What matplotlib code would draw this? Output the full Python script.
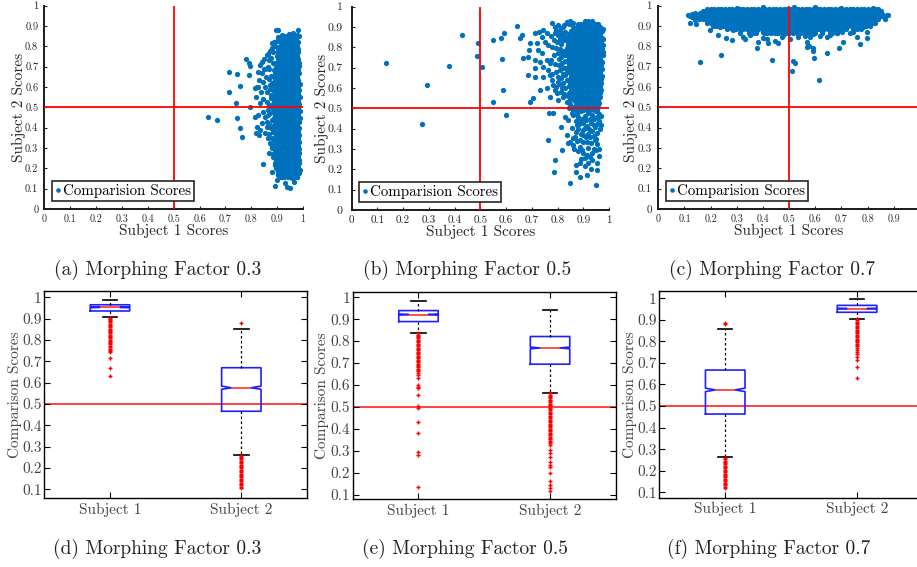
import numpy as np
import matplotlib
matplotlib.use('Agg')
import matplotlib.pyplot as plt
from matplotlib.lines import Line2D

plt.rcParams['font.family'] = ['cmr10', 'DejaVu Serif']
plt.rcParams['axes.formatter.use_mathtext'] = True
plt.rcParams['mathtext.fontset'] = 'cm'

BLUE = '#0072BD'
TICK_VALUES = [0, 0.1, 0.2, 0.3, 0.4, 0.5, 0.6, 0.7, 0.8, 0.9, 1]
TICK_LABELS = ['0', '0.1', '0.2', '0.3', '0.4', '0.5', '0.6', '0.7', '0.8', '0.9', '1']
BOX_TICKS = [0.1, 0.2, 0.3, 0.4, 0.5, 0.6, 0.7, 0.8, 0.9, 1]
BOX_TICK_LABELS = ['0.1', '0.2', '0.3', '0.4', '0.5', '0.6', '0.7', '0.8', '0.9', '1']
SUBJECTS = ['Subject 1', 'Subject 2']
CAPTIONS = ['(a) Morphing Factor 0.3', '(b) Morphing Factor 0.5', '(c) Morphing Factor 0.7',
            '(d) Morphing Factor 0.3', '(e) Morphing Factor 0.5', '(f) Morphing Factor 0.7']

# ---------------- scatter data, values in thousandths: (subject-2 score, [subject-1 scores]) --------
a_core_rows = [
    (158, [915, 928, 941, 953, 966, 977]),
    (175, [909, 921, 934, 947, 960, 972, 983]),
    (192, [906, 918, 931, 944, 957, 969, 981]),
    (209, [903, 916, 929, 942, 955, 968, 980]),
    (226, [900, 913, 926, 939, 952, 965, 978, 986]),
    (243, [897, 909, 922, 935, 948, 961, 974, 985]),
    (260, [901, 914, 927, 940, 953, 966, 979]),
    (277, [895, 908, 921, 934, 947, 960, 972, 984]),
    (294, [898, 911, 924, 937, 950, 963, 976, 986]),
    (311, [892, 905, 918, 931, 944, 957, 970, 982]),
    (328, [896, 909, 922, 935, 948, 961, 974, 986]),
    (345, [890, 903, 916, 929, 942, 955, 968, 980]),
    (362, [894, 907, 920, 933, 946, 959, 972, 985]),
    (379, [889, 902, 915, 928, 941, 954, 967, 979]),
    (396, [893, 906, 919, 932, 945, 958, 971, 984]),
    (413, [888, 901, 914, 927, 940, 953, 966, 978]),
    (430, [892, 905, 918, 931, 944, 957, 970, 983]),
    (447, [886, 899, 912, 925, 938, 951, 964, 977, 987]),
    (464, [891, 904, 917, 930, 943, 956, 969, 982]),
    (481, [885, 898, 911, 924, 937, 950, 963, 976, 987]),
    (498, [890, 903, 916, 929, 942, 955, 968, 981]),
    (515, [884, 897, 910, 923, 936, 949, 962, 975, 986]),
    (532, [889, 902, 915, 928, 941, 954, 967, 980]),
    (549, [885, 898, 911, 924, 937, 950, 963, 976, 987]),
    (566, [890, 903, 916, 929, 942, 955, 968, 981]),
    (583, [884, 897, 910, 923, 936, 949, 962, 975, 986]),
    (600, [889, 902, 915, 928, 941, 954, 967, 980]),
    (617, [886, 899, 912, 925, 938, 951, 964, 977, 987]),
    (634, [891, 904, 917, 930, 943, 956, 969, 982]),
    (651, [887, 900, 913, 926, 939, 952, 965, 978]),
    (668, [892, 905, 918, 931, 944, 957, 970, 983]),
    (685, [888, 901, 914, 927, 940, 953, 966, 979]),
    (702, [894, 907, 920, 933, 946, 959, 972, 984]),
    (719, [897, 910, 923, 936, 949, 962, 975, 986]),
    (736, [902, 915, 928, 941, 954, 967, 980]),
    (753, [899, 912, 925, 938, 951, 964, 977]),
    (770, [905, 918, 931, 944, 957, 970, 982]),
    (787, [903, 916, 929, 942, 955, 968, 980]),
    (804, [912, 925, 938, 951, 964, 977]),
    (821, [916, 929, 942, 955, 968, 979]),
    (838, [922, 935, 948, 961, 973]),
    (852, [930, 943, 956, 968]),
]
a_fringe = [
    (632, 454), (668, 438), (713, 672), (745, 662), (755, 607), (713, 577), (741, 523), (795, 503),
    (745, 449), (757, 396), (763, 353), (780, 738), (792, 716), (797, 703), (791, 659), (846, 221),
    (892, 115), (897, 880), (905, 880), (980, 880), (842, 725), (849, 736), (860, 758), (872, 779),
    (879, 790), (834, 708), (827, 676), (840, 667), (853, 687), (866, 700), (831, 635), (847, 626),
    (827, 602), (814, 594), (836, 577), (818, 553), (844, 540), (834, 520), (860, 528), (815, 454),
    (827, 462), (847, 479), (853, 454), (866, 462), (821, 405), (834, 389), (818, 372), (831, 364),
    (840, 421), (860, 405), (853, 372), (866, 348), (873, 323), (879, 299), (869, 274), (885, 257),
    (892, 225), (896, 200), (879, 184), (905, 167), (898, 143), (918, 159), (930, 126), (937, 110),
    (950, 102), (967, 135), (976, 159), (956, 151), (988, 192), (821, 602), (872, 611), (877, 560),
    (870, 420), (880, 350), (887, 820), (905, 845), (960, 867), (945, 860),
    (878, 745), (884, 720), (870, 690), (876, 655), (868, 640), (880, 620), (872, 590), (862, 575),
    (878, 545), (870, 510), (881, 500), (866, 485), (874, 470), (880, 440), (862, 430), (876, 400),
    (884, 380), (870, 370), (886, 340), (878, 320), (890, 290), (884, 270), (894, 245), (890, 215),
    (900, 195), (905, 182), (880, 815), (893, 800), (900, 825), (910, 840), (918, 858), (975, 858),
    (985, 850), (855, 600), (858, 650), (850, 690), (868, 735), (863, 760), (885, 770),
]

b_core_rows = [
    (490, [872, 886, 899, 913, 926, 940, 953]),
    (507, [866, 879, 893, 906, 920, 933, 947, 959]),
    (524, [870, 884, 897, 911, 924, 938, 951, 963]),
    (541, [864, 877, 891, 904, 918, 931, 945, 958]),
    (558, [861, 874, 888, 901, 915, 928, 942, 955, 966]),
    (575, [857, 870, 884, 897, 911, 924, 938, 951, 964]),
    (592, [852, 866, 879, 893, 906, 920, 933, 947, 960, 969]),
    (609, [856, 870, 883, 897, 910, 924, 937, 951, 964]),
    (626, [850, 863, 877, 890, 904, 917, 931, 944, 958, 970]),
    (643, [847, 861, 874, 888, 901, 915, 928, 942, 955, 968]),
    (660, [851, 865, 878, 892, 905, 919, 932, 946, 959, 971]),
    (677, [845, 858, 872, 885, 899, 912, 926, 939, 953, 966]),
    (694, [842, 856, 869, 883, 896, 910, 923, 937, 950, 964, 974]),
    (711, [846, 860, 873, 887, 900, 914, 927, 941, 954, 968]),
    (728, [840, 853, 867, 880, 894, 907, 921, 934, 948, 961, 973]),
    (745, [844, 857, 871, 884, 898, 911, 925, 938, 952, 965]),
    (762, [838, 851, 865, 878, 892, 905, 919, 932, 946, 959, 972]),
    (779, [842, 856, 869, 883, 896, 910, 923, 937, 950, 964, 975]),
    (796, [837, 850, 864, 877, 891, 904, 918, 931, 945, 958, 971]),
    (813, [841, 855, 868, 882, 895, 909, 922, 936, 949, 963, 975]),
    (830, [836, 849, 863, 876, 890, 903, 917, 930, 944, 957, 970]),
    (847, [840, 854, 867, 881, 894, 908, 921, 935, 948, 962, 974]),
    (864, [845, 858, 872, 885, 899, 912, 926, 939, 953, 966]),
    (881, [851, 865, 878, 892, 905, 919, 932, 946, 959, 971]),
    (898, [862, 875, 889, 902, 916, 929, 943, 956, 966]),
    (915, [878, 892, 905, 919, 932, 946, 958]),
    (930, [905, 920, 934]),
]
b_fringe = [
    (133, 722), (272, 423), (293, 613), (378, 708), (430, 859), (487, 759), (492, 823), (505, 703),
    (550, 836), (579, 844), (592, 869), (550, 533), (587, 590), (600, 467), (583, 741), (641, 905),
    (654, 844), (661, 861), (667, 746), (686, 754), (690, 787), (693, 820), (712, 869), (729, 877),
    (745, 885), (758, 869), (777, 918), (790, 902), (738, 853), (719, 820), (751, 828), (764, 812),
    (725, 787), (738, 771), (686, 664), (712, 738), (732, 730), (758, 738), (771, 722), (745, 705),
    (764, 689), (712, 697), (712, 656), (745, 656), (771, 664), (777, 640), (784, 615), (803, 631),
    (732, 590), (758, 599), (790, 590), (771, 558), (797, 574), (803, 541), (823, 558), (706, 549),
    (693, 533), (816, 599), (768, 479), (781, 479), (829, 459), (842, 443), (813, 410), (855, 402),
    (836, 369), (874, 418), (887, 443), (868, 361), (887, 344), (900, 369), (849, 336), (861, 320),
    (887, 312), (913, 336), (926, 361), (946, 344), (842, 328), (894, 295), (913, 271), (907, 254),
    (926, 262), (949, 295), (887, 230), (920, 233), (952, 230), (872, 222), (764, 344), (790, 246),
    (786, 189), (848, 131), (887, 164), (949, 123), (816, 295), (860, 490), (875, 470), (890, 485),
    (905, 460), (920, 478), (935, 465), (950, 488), (960, 470), (870, 440), (900, 430), (915, 415),
    (930, 430), (945, 410), (960, 440), (880, 400), (900, 392), (935, 390), (955, 380), (920, 372),
    (965, 400), (978, 890), (978, 840), (976, 760), (810, 880), (820, 900), (800, 860), (815, 815),
    (825, 780), (805, 745), (830, 700), (820, 670), (835, 640), (845, 610), (840, 560), (850, 520),
    (800, 910), (812, 895), (825, 912), (835, 925), (845, 915), (850, 930), (860, 918), (795, 885),
    (805, 870), (818, 862), (828, 878), (830, 850), (822, 835), (810, 842), (798, 825), (785, 838),
    (775, 855), (790, 870), (780, 800), (795, 795), (808, 790), (818, 770), (830, 760), (812, 752),
    (800, 770), (788, 760), (775, 740), (790, 720), (805, 712), (818, 725), (830, 735), (822, 700),
    (810, 690), (795, 680), (780, 670), (800, 655), (815, 650), (828, 665), (835, 680), (805, 620),
    (820, 625), (830, 600), (795, 605), (812, 580), (825, 570), (845, 575), (850, 545), (835, 530),
    (855, 505), (845, 500), (858, 475), (862, 465), (878, 455), (895, 448), (910, 445), (925, 450),
    (942, 448), (955, 455), (968, 460), (885, 425), (908, 405), (922, 400), (940, 420), (952, 425),
    (968, 420), (872, 385), (890, 375), (910, 360), (940, 365), (950, 350), (860, 355), (930, 330),
    (900, 335), (875, 340), (955, 325), (940, 300), (920, 305), (900, 280), (880, 290), (935, 280),
    (960, 300), (865, 300), (890, 250), (935, 245), (960, 265), (905, 215), (930, 200), (870, 185),
    (915, 170), (955, 195),
]

c_core_rows = [
    (985, [186, 200, 213, 228, 241, 256, 269, 283, 298, 311, 325, 340, 353, 367, 382, 395, 409, 424,
           437, 451, 466, 479, 493, 508, 521, 535, 550, 563, 577, 592, 605, 619, 634, 647, 661, 676,
           689, 703, 718, 731, 745, 760, 773, 787, 802, 815, 829, 841]),
    (968, [170, 179, 193, 206, 220, 235, 248, 262, 277, 290, 304, 319, 332, 346, 361, 374, 388, 403,
           416, 430, 445, 458, 472, 487, 500, 514, 529, 542, 556, 571, 584, 598, 613, 626, 640, 655,
           668, 682, 697, 710, 724, 739, 752, 766, 781, 794, 808, 823, 836, 849]),
    (951, [163, 176, 186, 200, 213, 228, 241, 256, 269, 283, 298, 311, 325, 340, 353, 367, 382, 395,
           409, 424, 437, 451, 466, 479, 493, 508, 521, 535, 550, 563, 577, 592, 605, 619, 634, 647,
           661, 676, 689, 703, 718, 731, 745, 760, 773, 787, 802, 815, 829, 843, 853]),
    (934, [172, 179, 193, 206, 220, 235, 248, 262, 277, 290, 304, 319, 332, 346, 361, 374, 388, 403,
           416, 430, 445, 458, 472, 487, 500, 514, 529, 542, 556, 571, 584, 598, 613, 626, 640, 655,
           668, 682, 697, 710, 724, 739, 752, 766, 781, 794, 808, 823, 838]),
    (917, [188, 200, 213, 228, 241, 256, 269, 283, 298, 311, 325, 340, 353, 367, 382, 395, 409, 424,
           437, 451, 466, 479, 493, 508, 521, 535, 550, 563, 577, 592, 605, 619, 634, 647, 661, 676,
           689, 703, 718, 731, 745, 760, 773, 787, 802, 815, 828]),
    (900, [208, 220, 235, 248, 262, 277, 290, 304, 319, 332, 346, 361, 374, 388, 403, 416, 430, 445,
           458, 472, 487, 500, 514, 529, 542, 556, 571, 584, 598, 613, 626, 640, 655, 668, 682, 697,
           710, 724, 739, 752, 766, 781, 794, 808]),
    (883, [262, 283, 298, 311, 325, 340, 353, 367, 382, 395, 409, 424, 437, 451, 466, 479, 493, 508,
           521, 535, 550, 563, 577, 592, 605, 619, 634, 647, 661, 676, 689, 703, 718, 745, 773]),
    (868, [346, 374, 403, 416, 430, 445, 458, 472, 487, 500, 514, 529, 542, 556, 571, 584, 598, 626,
           655, 682]),
]
c_fringe = [
    (159, 725), (240, 756), (433, 733), (510, 679), (516, 728), (523, 718), (614, 633), (590, 790),
    (593, 777), (597, 741), (567, 798), (577, 802), (644, 766), (692, 790), (771, 812), (799, 839),
    (376, 794), (382, 821), (459, 815), (281, 831), (259, 843), (230, 856), (198, 880), (144, 910),
    (121, 913), (115, 954), (128, 943), (140, 962), (159, 946), (172, 966), (185, 930), (217, 905),
    (236, 897), (312, 864), (325, 848), (351, 856), (363, 864), (402, 839), (414, 835), (446, 828),
    (471, 844), (504, 835), (535, 848), (561, 851), (580, 844), (618, 851), (644, 844), (656, 856),
    (682, 864), (707, 823), (733, 864), (746, 872), (701, 872), (758, 884), (784, 897), (809, 913),
    (835, 946), (848, 962), (860, 949), (873, 954), (867, 933), (879, 954), (287, 880), (261, 889),
    (338, 889), (376, 880), (402, 872), (453, 864), (478, 856), (516, 872), (542, 864), (567, 867),
    (593, 861), (625, 872), (663, 867), (331, 835), (421, 818), (567, 823), (758, 844), (797, 872),
    (120, 950), (130, 960), (145, 950), (155, 935), (165, 955), (140, 928), (170, 975), (160, 962),
    (850, 975), (855, 958), (520, 993), (600, 992), (700, 991), (300, 990), (400, 992), (820, 990),
]

# ---------------- box-plot statistics ---------------------------------------------------------------
d_s1 = dict(med=0.953, q1=0.936, q3=0.965, whislo=0.906, whishi=0.987, cilo=0.951, cihi=0.955)
d_s2 = dict(med=0.576, q1=0.466, q3=0.670, whislo=0.261, whishi=0.850, cilo=0.569, cihi=0.584)
e_s1 = dict(med=0.921, q1=0.889, q3=0.939, whislo=0.839, whishi=0.983, cilo=0.918, cihi=0.924)
e_s2 = dict(med=0.769, q1=0.695, q3=0.821, whislo=0.566, whishi=0.942, cilo=0.765, cihi=0.773)
f_s1 = dict(med=0.575, q1=0.463, q3=0.667, whislo=0.262, whishi=0.856, cilo=0.567, cihi=0.583)
f_s2 = dict(med=0.952, q1=0.935, q3=0.967, whislo=0.905, whishi=0.995, cilo=0.950, cihi=0.954)

d_s1_fliers = [0.904, 0.899, 0.893, 0.887, 0.882, 0.876, 0.871, 0.865, 0.859, 0.853, 0.848, 0.842,
               0.836, 0.831, 0.825, 0.819, 0.814, 0.808, 0.802, 0.797, 0.791, 0.785, 0.779, 0.774,
               0.768, 0.760, 0.754, 0.748, 0.742, 0.715, 0.667, 0.630]
d_s2_fliers = [0.878, 0.258, 0.252, 0.246, 0.240, 0.234, 0.228, 0.222, 0.216, 0.210, 0.204, 0.198,
               0.192, 0.186, 0.180, 0.174, 0.168, 0.162, 0.156, 0.150, 0.144, 0.138, 0.131, 0.125,
               0.118, 0.112, 0.105]
e_s1_fliers = [0.836, 0.830, 0.824, 0.818, 0.812, 0.806, 0.800, 0.794, 0.788, 0.782, 0.776, 0.770,
               0.764, 0.758, 0.752, 0.746, 0.740, 0.734, 0.728, 0.722, 0.716, 0.710, 0.704, 0.698,
               0.692, 0.686, 0.680, 0.674, 0.668, 0.662, 0.655, 0.645, 0.631, 0.601, 0.593, 0.586,
               0.555, 0.505, 0.495, 0.434, 0.384, 0.297, 0.282, 0.138]
e_s2_fliers = [0.563, 0.557, 0.551, 0.545, 0.539, 0.533, 0.527, 0.521, 0.515, 0.509, 0.503, 0.497,
               0.491, 0.485, 0.479, 0.473, 0.467, 0.461, 0.455, 0.449, 0.443, 0.437, 0.431, 0.425,
               0.419, 0.413, 0.407, 0.401, 0.395, 0.389, 0.383, 0.377, 0.371, 0.365, 0.359, 0.353,
               0.347, 0.341, 0.335, 0.329, 0.305, 0.290, 0.274, 0.252, 0.237, 0.226, 0.199, 0.164,
               0.146, 0.131, 0.120]
f_s1_fliers = [0.887, 0.879, 0.259, 0.253, 0.247, 0.241, 0.235, 0.229, 0.223, 0.217, 0.211, 0.205,
               0.199, 0.193, 0.187, 0.181, 0.175, 0.169, 0.163, 0.157, 0.151, 0.145, 0.139, 0.133,
               0.126, 0.119]
f_s2_fliers = [0.903, 0.897, 0.891, 0.885, 0.879, 0.873, 0.867, 0.861, 0.855, 0.849, 0.843, 0.837,
               0.831, 0.825, 0.819, 0.813, 0.807, 0.801, 0.795, 0.789, 0.783, 0.777, 0.768, 0.760,
               0.752, 0.741, 0.728, 0.714, 0.680, 0.632]


def expand(rows, fringe):
    xs, ys = [], []
    for y, xlist in rows:
        for x in xlist:
            xs.append(x / 1000.0)
            ys.append(y / 1000.0)
    for x, y in fringe:
        xs.append(x / 1000.0)
        ys.append(y / 1000.0)
    return np.array(xs), np.array(ys)


fig = plt.figure(figsize=(9.17, 5.67), dpi=100)
W, H = 917.0, 567.0


def px_axes(left, top, right, bottom):
    return fig.add_axes([left / W, 1 - bottom / H, (right - left) / W, (bottom - top) / H])


MG = '#262626'
MS = 3.8


def scatter_panel(ax, rows, fringe, xfs, yfs, ypad, ylab_x):
    xs, ys = expand(rows, fringe)
    ax.plot(xs, ys, 'o', color=BLUE, ms=MS, mew=0, ls='none', zorder=2, clip_on=False)
    ax.axvline(0.5, color='red', lw=1.3, zorder=3)
    ax.axhline(0.5, color='red', lw=1.3, zorder=3)
    ax.set_xlim(0, 1)
    ax.set_ylim(0, 1)
    ax.set_xticks(TICK_VALUES)
    ax.set_xticklabels(TICK_LABELS)
    ax.set_yticks(TICK_VALUES)
    ax.set_yticklabels(TICK_LABELS)
    for s in ['top', 'right']:
        ax.spines[s].set_visible(False)
    for s in ['left', 'bottom']:
        ax.spines[s].set_linewidth(1.4)
        ax.spines[s].set_color('#1a1a1a')
    ax.tick_params(axis='x', direction='in', length=2.5, width=0.8, colors=MG, labelsize=xfs, pad=4)
    ax.tick_params(axis='y', direction='in', length=2.5, width=0.8, colors=MG, labelsize=yfs, pad=ypad)
    ax.set_xlabel('Subject 1 Scores', fontsize=11, color=MG)
    ax.set_ylabel('Subject 2 Scores', fontsize=11, color=MG)
    ax.xaxis.set_label_coords(0.5, -0.075)
    ax.yaxis.set_label_coords(ylab_x, 0.5)
    h = Line2D([], [], marker='o', color=BLUE, ls='none', ms=3.3, mew=0)
    leg = ax.legend([h], ['Comparision Scores'], loc='lower left', bbox_to_anchor=(0.028, 0.04),
                    handlelength=0.45, handletextpad=0.1, borderpad=0.2, borderaxespad=0,
                    fancybox=False, edgecolor=MG, framealpha=1, fontsize=10.8, numpoints=1)
    leg.get_frame().set_linewidth(1.2)
    leg.set_zorder(5)


ax_a = px_axes(44.3, 5.7, 303.0, 209.0)
scatter_panel(ax_a, a_core_rows, a_fringe, 7.2, 7.5, 4.3, -0.072)
ax_b = px_axes(351.7, 6.7, 609.0, 210.0)
scatter_panel(ax_b, b_core_rows, b_fringe, 8.0, 8.5, 6.5, -0.088)
ax_c = px_axes(658.3, 5.7, 919.9, 209.0)
scatter_panel(ax_c, c_core_rows, c_fringe, 7.2, 8.0, 4.7, -0.077)


def box_panel(ax, s1, s2, f1, f2, ylim, ylab_x):
    st1 = dict(s1, fliers=f1, label=SUBJECTS[0])
    st2 = dict(s2, fliers=f2, label=SUBJECTS[1])
    ax.bxp([st1, st2], positions=[1, 2], widths=0.3, shownotches=True, showfliers=True,
           boxprops=dict(color='#2020ff', lw=1.2),
           medianprops=dict(color='#ff3030', lw=1.2),
           whiskerprops=dict(color='black', lw=0.9, linestyle=(0, (2, 2))),
           capprops=dict(color='black', lw=1.2),
           flierprops=dict(marker='+', markeredgecolor='red', markerfacecolor='red',
                           markersize=3.5, mew=1.0, linestyle='none'),
           capwidths=0.11)
    ax.axhline(0.5, color='#ff2020', lw=1.2, zorder=1)
    ax.set_xlim(0.5, 2.5)
    ax.set_ylim(*ylim)
    ax.set_yticks(BOX_TICKS)
    ax.set_yticklabels(BOX_TICK_LABELS)
    ax.set_xticks([1, 2])
    ax.set_xticklabels(SUBJECTS)
    for s in ax.spines.values():
        s.set_linewidth(1.0)
        s.set_color('black')
    ax.tick_params(axis='both', direction='in', length=4, width=0.8, top=True, right=True,
                   labelcolor='#444444', labelsize=11, color='black')
    ax.tick_params(axis='y', pad=2)
    ax.tick_params(axis='x', pad=3)
    ax.set_ylabel('Comparison Scores', fontsize=11, color='#444444')
    ax.yaxis.set_label_coords(ylab_x, 0.5)


ax_d = px_axes(44.3, 290.7, 307.0, 498.3)
box_panel(ax_d, d_s1, d_s2, d_s1_fliers, d_s2_fliers, (0.058, 1.031), -0.085)
ax_e = px_axes(352.7, 291.7, 615.8, 499.3)
box_panel(ax_e, e_s1, e_s2, e_s1_fliers, e_s2_fliers, (0.080, 1.025), -0.09)
ax_f = px_axes(659.3, 290.7, 923.0, 497.7)
box_panel(ax_f, f_s1, f_s2, f_s1_fliers, f_s2_fliers, (0.075, 1.035), -0.085)

cap_pos = [(157.5, 270), (467, 270), (772, 270), (157, 549), (465, 549), (769, 549)]
for (cx, cy), txt in zip(cap_pos, CAPTIONS):
    fig.text(cx / W, 1 - cy / H, txt, ha='center', va='center', fontsize=14, color='#222222')

fig.savefig('out.png', dpi=100)
